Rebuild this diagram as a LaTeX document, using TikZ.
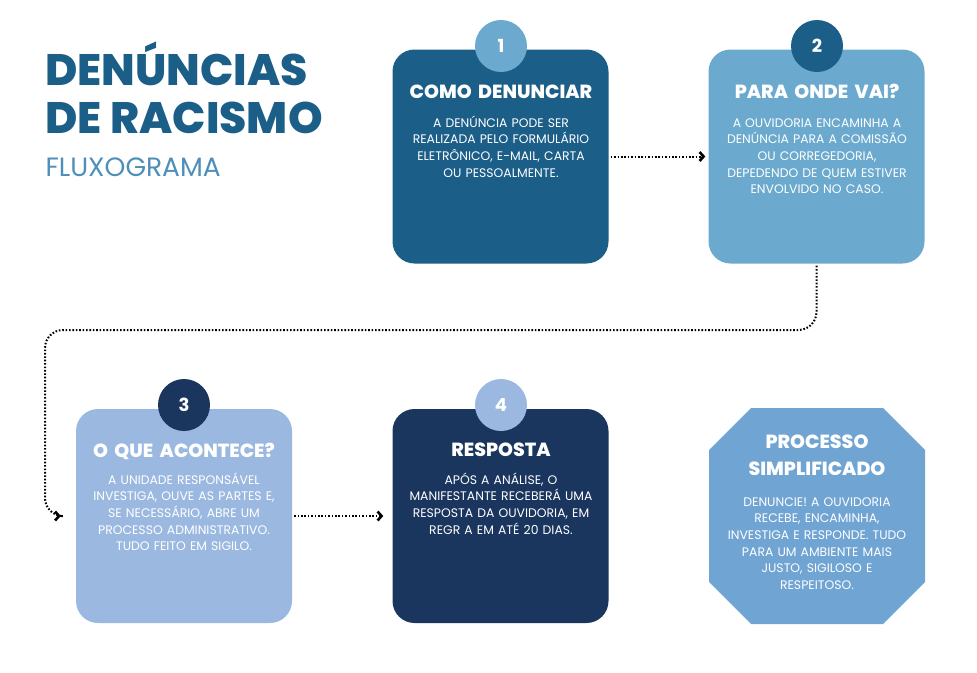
\documentclass[tikz,border=0pt]{standalone}
\usepackage{fontspec}
\setmainfont{Poppins}
\newfontfamily\heavyfont{Poppins ExtraBold}
\usepackage{tikz}
\usetikzlibrary{arrows.meta, positioning}
\definecolor{Ocean}{HTML}{1B5E88}
\definecolor{Sky}{HTML}{6BAACE}
\definecolor{Mist}{HTML}{9BB9E0}
\definecolor{Navy}{HTML}{1A365E}
\definecolor{Steel}{HTML}{70A4D3}
\definecolor{SubBlue}{HTML}{4E8FB9}

\begin{document}
\begin{tikzpicture}[
  x=1pt, y=-1pt,
  card/.style={rounded corners=22pt, minimum width=216pt, minimum height=214pt, inner sep=0pt},
  badge/.style={circle, minimum size=52pt, inner sep=0pt, text=white, font=\fontsize{18}{18}\selectfont\bfseries},
  head/.style={anchor=base, text=white, text width=212pt, align=center, font=\fontsize{19}{27}\selectfont\heavyfont},
  body/.style={anchor=base, text=white, text width=214pt, align=center, font=\fontsize{12.4}{16.7}\selectfont},
  flow/.style={-{Straight Barb[length=4pt, width=9pt, line width=2.6pt]}, line width=2pt, dash pattern=on 1.6pt off 1.8pt, shorten <=2pt}
]
\useasboundingbox (0,0) rectangle (977,672);

\node[anchor=base west, text=Ocean, font=\fontsize{44}{44}\selectfont\heavyfont] (title) at (42,85) {DENÚNCIAS};
\node[anchor=base west, text=Ocean, font=\fontsize{44}{44}\selectfont\heavyfont] (title2) at (42,133) {DE RACISMO};
\node[anchor=base west, text=SubBlue, font=\fontsize{26.5}{26.5}\selectfont] (sub) at (42,176) {FLUXOGRAMA};

\node[card, fill=Ocean] (como) at (500.5,156.5) {};
\node[card, fill=Sky] (para) at (816.5,156.5) {};
\node[card, fill=Mist] (acontece) at (184,516) {};
\node[card, fill=Navy] (resposta) at (500.5,516) {};
\fill[Steel] (751,408) -- (883,408) -- (925,450) -- (925,582) -- (883,624)
  -- (751,624) -- (709,582) -- (709,450) -- cycle;

\node[badge, fill=Sky] (n1) at (501,46) {1};
\node[badge, fill=Ocean] (n2) at (817,46) {2};
\node[badge, fill=Navy] (n3) at (184,405) {3};
\node[badge, fill=Mist] (n4) at (501,405) {4};

\node[head] (h1) at (501,98) {COMO DENUNCIAR};
\node[body] (b1) at (501,127) {A DENÚNCIA PODE SER\\REALIZADA PELO FORMULÁRIO\\ELETRÔNICO, E-MAIL, CARTA\\OU PESSOALMENTE.};
\node[head] (h2) at (817,98) {PARA ONDE VAI?};
\node[body] (b2) at (817,127) {A OUVIDORIA ENCAMINHA A\\DENÚNCIA PARA A COMISSÃO\\OU CORREGEDORIA,\\DEPEDENDO DE QUEM ESTIVER\\ENVOLVIDO NO CASO.};
\node[head] (h3) at (184,457) {O QUE ACONTECE?};
\node[body] (b3) at (184,484) {A UNIDADE RESPONSÁVEL\\INVESTIGA, OUVE AS PARTES E,\\SE NECESSÁRIO, ABRE UM\\PROCESSO ADMINISTRATIVO.\\TUDO FEITO EM SIGILO.};
\node[head] (h4) at (501,456) {RESPOSTA};
\node[body] (b4) at (501,484) {APÓS A ANÁLISE, O\\MANIFESTANTE RECEBERÁ UMA\\RESPOSTA DA OUVIDORIA, EM\\REGR A EM ATÉ 20 DIAS.};
\node[head] (h5) at (817,448) {PROCESSO\\SIMPLIFICADO};
\node[body] (b5) at (817,506) {DENUNCIE! A OUVIDORIA\\RECEBE, ENCAMINHA,\\INVESTIGA E RESPONDE. TUDO\\PARA UM AMBIENTE MAIS\\JUSTO, SIGILOSO E\\RESPEITOSO.};

\coordinate (turn) at (45,330);
\draw[flow, shorten >=3pt] (como) -- (para);
\draw[flow, rounded corners=18pt, shorten >=15pt] (para.south) |- (turn) |- (acontece.west);
\draw[flow, shorten >=9pt] (acontece) -- (resposta);
\end{tikzpicture}
\end{document}
